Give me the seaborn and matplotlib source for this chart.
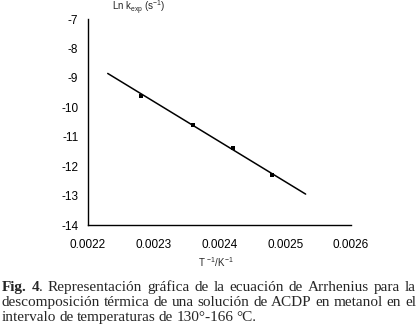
import matplotlib
matplotlib.use("Agg")
import matplotlib.pyplot as plt
import seaborn as sns
import pandas as pd

# data
inv_temp = [0.00228, 0.00236, 0.00242, 0.00248]
ln_k = [-9.6, -10.6, -11.4, -12.3]
fit_x = [0.00223, 0.002531]
fit_y = [-8.85, -12.95]
x_ticks = [0.0022, 0.0023, 0.0024, 0.0025, 0.0026]
y_ticks = [-7, -8, -9, -10, -11, -12, -13, -14]

caption_lines = [
    [("Fig.", True), ("4", True), ("Representación", False), ("gráfica", False), ("de", False),
     ("la", False), ("ecuación", False), ("de", False), ("Arrhenius", False), ("para", False), ("la", False)],
    [("descomposición", False), ("térmica", False), ("de", False), ("una", False), ("solución", False),
     ("de", False), ("ACDP", False), ("en", False), ("metanol", False), ("en", False), ("el", False)],
    [("intervalo", False), ("de", False), ("temperaturas", False), ("de", False), ("130°-166", False),
     ("°C.", False)],
]

sns.set_style("white")
plt.rcParams["font.family"] = ["Liberation Sans", "DejaVu Sans"]
plt.rcParams["axes.unicode_minus"] = False
plt.rcParams["mathtext.fontset"] = "custom"
plt.rcParams["mathtext.rm"] = "Liberation Sans"
plt.rcParams["mathtext.it"] = "Liberation Sans"

W, H = 418, 328
fig = plt.figure(figsize=(W / 100, H / 100), dpi=100)
ax = fig.add_axes([88 / W, 1 - 225 / H, (351 - 88) / W, (225 - 19) / H])

pts = pd.DataFrame({"x": inv_temp, "y": ln_k})
fit = pd.DataFrame({"x": fit_x, "y": fit_y})
sns.lineplot(data=fit, x="x", y="y", color="black", linewidth=1.1, ax=ax)
sns.scatterplot(data=pts, x="x", y="y", color="black", marker="s", s=9, linewidth=0, ax=ax, zorder=3)

ax.set_xlim(0.0022, 0.0026)
ax.set_ylim(-14, -7)
ax.set_xticks(x_ticks)
ax.set_xticklabels([f"{v:.4f}" for v in x_ticks])
ax.set_yticks(y_ticks)
ax.set_xlabel("")
ax.set_ylabel("")
sns.despine(ax=ax)
for s in ["left", "bottom"]:
    ax.spines[s].set_color("black")
    ax.spines[s].set_linewidth(1.0)
ax.tick_params(axis="both", direction="out", length=4, width=1, color="black",
               labelsize=8.5, labelcolor="black", pad=3)
ax.tick_params(axis="x", pad=6)

fig.text(112 / W, 1 - 8 / H, r"Ln k$_{\mathrm{exp}}$ (s$^{-1}$)", fontsize=7, va="center", ha="left")
fig.text(216 / W, 1 - 262 / H, r"T $^{-1}$/K$^{-1}$", fontsize=7, va="center", ha="center")

# justified caption ("4" bold, its period plain)
renderer = fig.canvas.get_renderer()
left, right = 2, 416
baselines = [291, 306, 321]
for i, line in enumerate(caption_lines):
    texts = []
    for word, bold in line:
        t = fig.text(0, 1 - baselines[i] / H, word, fontsize=11, family="Liberation Serif",
                     weight="bold" if bold else "normal", va="baseline", ha="left")
        texts.append(t)
    if i == 0:
        dot = fig.text(0, 1 - baselines[i] / H, ".", fontsize=11, family="Liberation Serif",
                       va="baseline", ha="left")
        dot_w = dot.get_window_extent(renderer).width
    widths = [t.get_window_extent(renderer).width for t in texts]
    if i == 0:
        widths[1] += dot_w
    if i < len(caption_lines) - 1:
        gap = (right - left - sum(widths)) / (len(texts) - 1)
    else:
        gap = 3.2
    x = left
    for j, (t, w) in enumerate(zip(texts, widths)):
        t.set_x(x / W)
        if i == 0 and j == 1:
            dot.set_x((x + w - dot_w) / W)
        x += w + gap

fig.savefig("out.png", dpi=100)
